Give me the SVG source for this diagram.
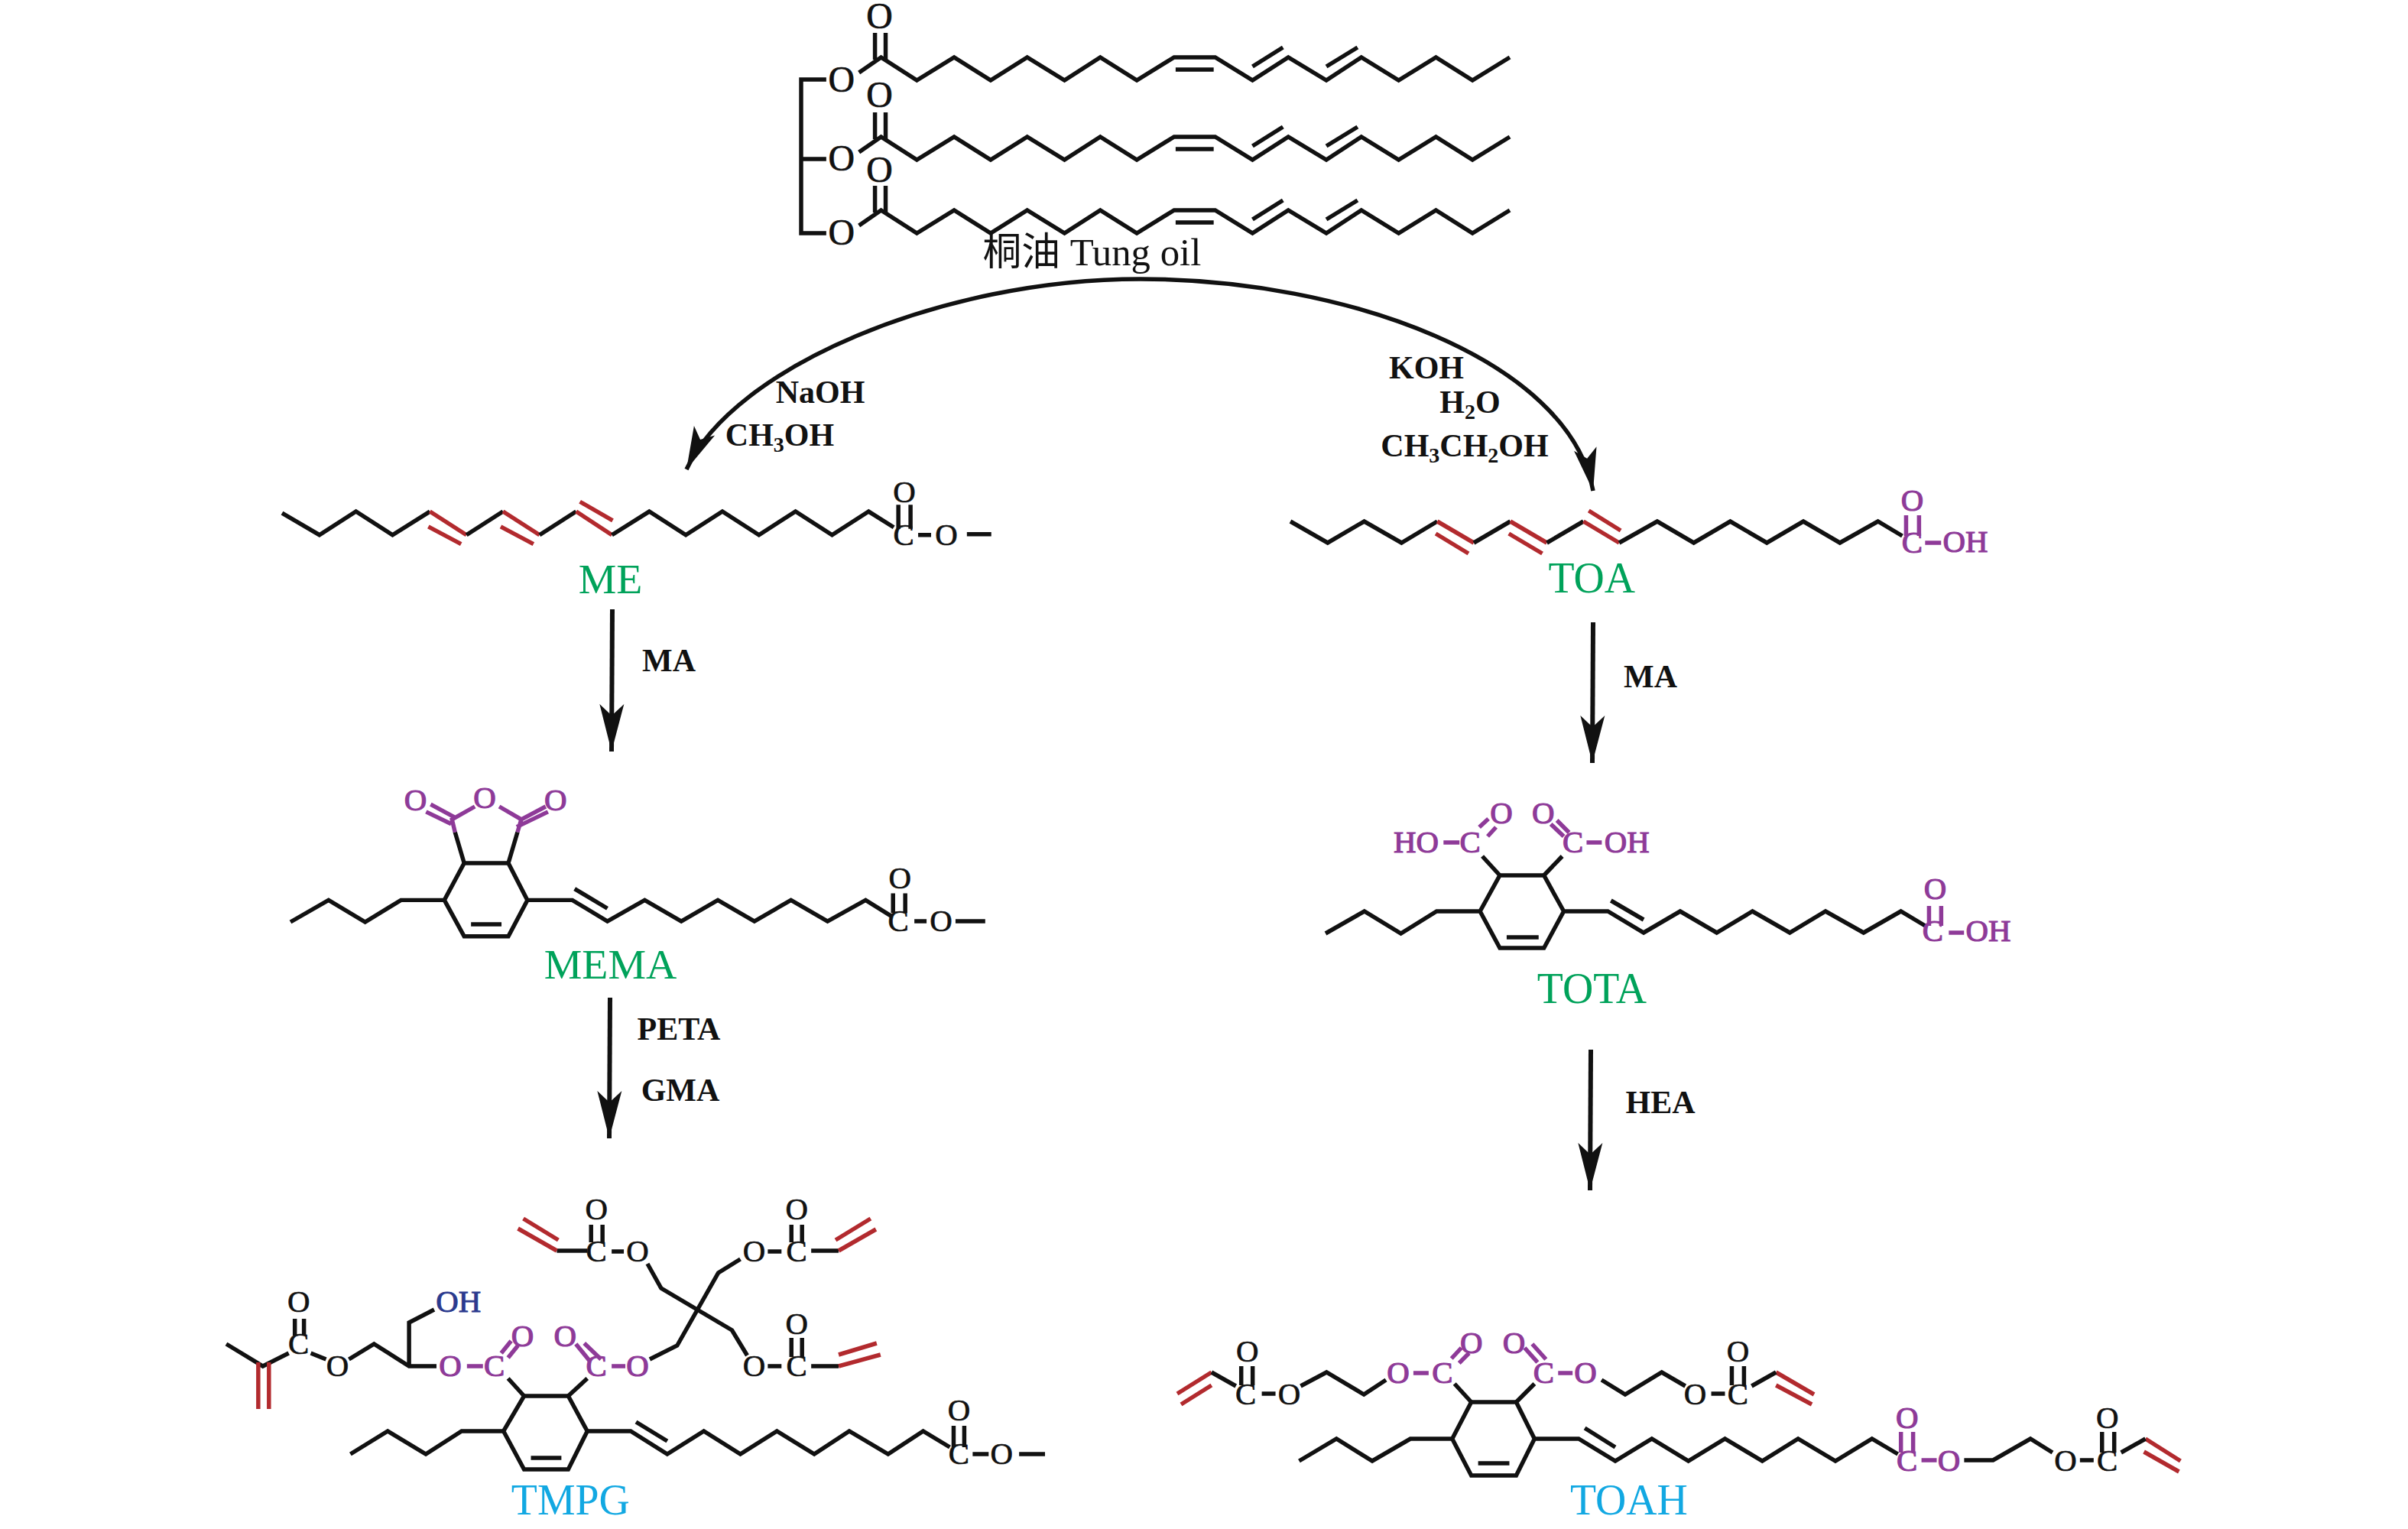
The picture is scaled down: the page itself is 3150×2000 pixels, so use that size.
<svg xmlns="http://www.w3.org/2000/svg" width="3150" height="2000" viewBox="0 0 3150 2000">
<style>
text{font-family:"Liberation Serif","Noto Sans CJK SC",serif;text-anchor:middle;fill:#111}
.a{font-size:41px;stroke:#111;stroke-width:.7}
.big{font-size:48px;stroke:#111;stroke-width:.7}
.name{font-size:56px;fill:#00a25a}
.blue{font-size:56px;fill:#12a8e2}
.rg{font-size:42px;font-weight:bold}
.v{fill:#8e3a98;stroke:#8e3a98;stroke-width:1.2}
.n{fill:#2b3a8e;stroke:#2b3a8e;stroke-width:1}
path{fill:none;stroke-linejoin:miter}
.b{stroke:#111;stroke-width:5.5}
.r{stroke:#b22a2e;stroke-width:5.5}
.p{stroke:#8e3a98;stroke-width:5.5}
.c{stroke:#111;stroke-width:6}
.c2{stroke:#111;stroke-width:5.5}
</style>
<defs>
<marker id="ah" markerUnits="userSpaceOnUse" markerWidth="70" markerHeight="40" refX="62" refY="18" orient="auto"><path d="M0,2 L15,18 L0,34 L62,18 Z" style="fill:#111;stroke:none"/></marker>
<marker id="ahs" markerUnits="userSpaceOnUse" markerWidth="64" markerHeight="36" refX="56" refY="16" orient="auto-start-reverse"><path d="M0,1 L13,16 L0,31 L56,16 Z" style="fill:#111;stroke:none"/></marker>
<g id="chain">
<path class="b" d="M1124,95 L1153,75 L1200,105 L1249,75 L1297,105 L1345,75 L1394,105 L1441,75 L1489,105 L1538,75 L1592,75 L1641,105 L1688,75 L1738,105 L1784,75 L1833,105 L1882,75 L1930,105 L1979,75"/>
<path class="b" d="M1540,91 H1590 M1641,87 L1681,62 M1738,87 L1779,62 M1145,43 V78 M1159,43 V78"/>
</g>
</defs>

<g id="connectors">
<path class="c2" d="M898,614 C960,480 1232,365 1492,365 C1760,365 2052,470 2084,642" marker-start="url(#ahs)" marker-end="url(#ahs)"/>
<path class="c" d="M801,797 L800,983" marker-end="url(#ah)"/>
<path class="c" d="M798,1305 L797,1489" marker-end="url(#ah)"/>
<path class="c" d="M2084,814 L2083,998" marker-end="url(#ah)"/>
<path class="c" d="M2081,1373 L2080,1557" marker-end="url(#ah)"/>
<text class="rg" x="1073" y="527">NaOH</text>
<text class="rg" x="1020" y="583">CH<tspan font-size="28" dy="8">3</tspan><tspan dy="-8">OH</tspan></text>
<text class="rg" x="1866" y="495">KOH</text>
<text class="rg" x="1923" y="540">H<tspan font-size="28" dy="8">2</tspan><tspan dy="-8">O</tspan></text>
<text class="rg" x="1916" y="597">CH<tspan font-size="28" dy="8">3</tspan><tspan dy="-8">CH</tspan><tspan font-size="28" dy="8">2</tspan><tspan dy="-8">OH</tspan></text>
<text class="rg" x="875" y="878">MA</text>
<text class="rg" x="2159" y="899">MA</text>
<text class="rg" x="888" y="1360">PETA</text>
<text class="rg" x="890" y="1440">GMA</text>
<text class="rg" x="2172" y="1456">HEA</text>
</g>

<g id="tung-oil" transform="translate(1048,0) scale(.9957,1) translate(-1048,0)">
<use href="#chain"/>
<use href="#chain" y="104"/>
<use href="#chain" y="200"/>
<path class="b" d="M1081,104 H1048 V305 H1081 M1048,208 H1081"/>
<text class="big" x="1151" y="37">O</text>
<text class="big" x="1151" y="140">O</text>
<text class="big" x="1151" y="238">O</text>
<text class="big" x="1101" y="120">O</text>
<text class="big" x="1101" y="223">O</text>
<text class="big" x="1101" y="320">O</text>
<text x="1430" y="347" style="font-size:51px">桐油 Tung oil</text>
</g>

<g id="ME" transform="translate(369,600) scale(.9965,.987) translate(-369,-600)">
<path class="b" d="M369,672 L418,701 L466,670 L514,701 L563,670"/>
<path class="r" d="M563,670 L611,701"/>
<path class="b" d="M611,701 L659,670"/>
<path class="r" d="M659,670 L707,701"/>
<path class="b" d="M707,701 L755,670"/>
<path class="r" d="M755,670 L802,701"/>
<path class="b" d="M802,701 L851,670 L899,701 L947,670 L995,701 L1043,670 L1091,701 L1139,670 L1172,691"/>
<path class="r" d="M561,690 L604,713 M656,690 L699,713 M760,657 L803,682"/>
<path class="b" d="M1178,661 V693 M1194,661 V693 M1204,701 H1221 M1268,700 H1300"/>
<text class="a" x="1186" y="658">O</text>
<text class="a" x="1185" y="714">C</text>
<text class="a" x="1241" y="714">O</text>
<text class="name" x="800" y="778">ME</text>
</g>

<g id="MEMA" transform="translate(380,600) scale(.9965,.987) translate(-380,-600)">
<path class="b" d="M380,1214 L430,1185 L478,1214 L525,1185 H582 L608,1136 H666 L691,1185 L666,1233 H608 L582,1185 M691,1185 H750 L796,1213 L845,1185 L893,1213 L941,1185 L989,1213 L1037,1185 L1085,1213 L1135,1185 L1170,1207"/>
<path class="b" d="M617,1217 H657 M753,1170 L796,1196 M608,1136 L596,1095 M666,1136 L678,1095 M1171,1176 V1202 M1187,1176 V1202 M1199,1213 H1215 M1253,1213 H1292"/>
<path class="p" d="M596,1095 L592,1078 L622,1061 M678,1095 L683,1078 L654,1061 M558,1068 L591,1084 M564,1058 L597,1076 M683,1078 L715,1061 M677,1088 L718,1068"/>
<text class="a v" x="544" y="1066">O</text>
<text class="a v" x="635" y="1063">O</text>
<text class="a v" x="728" y="1066">O</text>
<text class="a" x="1180" y="1169">O</text>
<text class="a" x="1178" y="1226">C</text>
<text class="a" x="1234" y="1226">O</text>
<text class="name" x="800" y="1289">MEMA</text>
</g>

<g id="TOA" transform="translate(1688,0) scale(.9956,1) translate(-1688,0)">
<path class="b" d="M1688,682 L1737,710 L1785,682 L1834,710 L1881,682"/>
<path class="r" d="M1881,682 L1929,710"/>
<path class="b" d="M1929,710 L1977,682"/>
<path class="r" d="M1977,682 L2025,710"/>
<path class="b" d="M2025,710 L2073,682"/>
<path class="r" d="M2073,682 L2120,710"/>
<path class="b" d="M2120,710 L2170,682 L2218,710 L2266,682 L2314,710 L2362,682 L2410,710 L2460,682 L2492,701"/>
<path class="r" d="M1879,698 L1922,724 M1975,698 L2019,724 M2080,668 L2122,694"/>
<path class="p" d="M2497,674 V701 M2514,674 V701 M2522,710 H2543"/>
<text class="a v" x="2505" y="668">O</text>
<text class="a v" x="2505" y="723">C</text>
<text class="a v" x="2575" y="722">OH</text>
<text class="name" x="2084" y="775">TOA</text>
</g>

<g id="TOTA" transform="translate(1734,0) scale(.9955,1) translate(-1734,0)">
<path class="b" d="M1734,1221 L1785,1192 L1833,1221 L1880,1192 H1937 L1963,1145 H2021 L2047,1192 L2021,1240 H1963 L1937,1192 M2047,1192 H2105 L2152,1220 L2200,1192 L2248,1220 L2295,1192 L2344,1220 L2391,1192 L2441,1220 L2490,1192 L2522,1211"/>
<path class="b" d="M1972,1226 H2014 M2109,1178 L2152,1203 M1963,1145 L1940,1120 M2021,1145 L2045,1120"/>
<path class="p" d="M1889,1102 H1910 M1936,1082 L1948,1071 M1947,1094 L1958,1082 M2030,1078 L2047,1094 M2038,1073 L2054,1089 M2077,1102 H2097 M2527,1185 V1211 M2543,1185 V1211 M2553,1220 H2573"/>
<text class="a v" x="1853" y="1115">HO</text>
<text class="a v" x="1924" y="1115">C</text>
<text class="a v" x="1965" y="1077">O</text>
<text class="a v" x="2020" y="1077">O</text>
<text class="a v" x="2059" y="1115">C</text>
<text class="a v" x="2130" y="1115">OH</text>
<text class="a v" x="2535" y="1176">O</text>
<text class="a v" x="2532" y="1231">C</text>
<text class="a v" x="2605" y="1231">OH</text>
<text class="name" x="2084" y="1312">TOTA</text>
</g>

<g id="TMPG" transform="translate(296,0) scale(.9963,1) translate(-298,0)">
<path class="b" d="M298,1758 L346,1787 L380,1770 M409,1770 L429,1778 M459,1778 L492,1758 L538,1787 H574 M538,1787 V1730 L571,1713"/>
<path class="b" d="M388,1725 V1747 M400,1725 V1747"/>
<path class="r" d="M340,1782 V1843 M354,1782 V1843"/>
<path class="p" d="M614,1787 H635 M659,1770 L672,1754 M668,1776 L681,1760 M757,1758 L775,1780 M768,1757 L790,1778 M804,1787 H822"/>
<path class="b" d="M668,1803 L689,1826 M772,1803 L747,1826"/>
<path class="b" d="M461,1902 L510,1872 L560,1902 L607,1872 H662 L689,1826 H747 L772,1872 L747,1922 H689 L662,1872 M772,1872 H829 L877,1902 L925,1872 L973,1902 L1021,1872 L1070,1902 L1116,1872 L1167,1902 L1213,1872 L1248,1893"/>
<path class="b" d="M698,1907 H738 M836,1860 L877,1885 M1253,1865 V1893 M1267,1865 V1893 M1278,1902 H1299 M1339,1902 H1373"/>
<path class="b" d="M851,1653 L869,1685 L962,1740 L982,1773 M973,1647 L944,1665 L890,1760 L854,1778"/>
<path class="b" d="M804,1637 H820 M777,1602 V1625 M792,1602 V1625 M732,1636 H772 M1009,1637 H1027 M1040,1602 V1625 M1054,1602 V1625 M1066,1636 H1102 M1009,1787 H1027 M1040,1750 V1775 M1054,1750 V1775 M1066,1787 H1102"/>
<path class="r" d="M732,1636 L681,1607 M734,1622 L688,1594 M1102,1636 L1151,1608 M1098,1622 L1144,1594 M1102,1787 L1157,1772 M1102,1772 L1152,1757"/>
<text class="a" x="393" y="1771">C</text>
<text class="a" x="393" y="1716">O</text>
<text class="a" x="444" y="1800">O</text>
<text class="a n" x="603" y="1716">OH</text>
<text class="a v" x="592" y="1800">O</text>
<text class="a v" x="650" y="1800">C</text>
<text class="a v" x="687" y="1761">O</text>
<text class="a v" x="743" y="1761">O</text>
<text class="a v" x="784" y="1800">C</text>
<text class="a v" x="838" y="1800">O</text>
<text class="a" x="784" y="1595">O</text>
<text class="a" x="784" y="1650">C</text>
<text class="a" x="838" y="1650">O</text>
<text class="a" x="1047" y="1595">O</text>
<text class="a" x="1047" y="1650">C</text>
<text class="a" x="991" y="1650">O</text>
<text class="a" x="1047" y="1745">O</text>
<text class="a" x="1047" y="1800">C</text>
<text class="a" x="991" y="1800">O</text>
<text class="a" x="1260" y="1858">O</text>
<text class="a" x="1260" y="1915">C</text>
<text class="a" x="1316" y="1915">O</text>
<text class="blue" x="750" y="1981">TMPG</text>
</g>

<g id="TOAH" transform="translate(1540,0) scale(.9965,1) translate(-1542,0)">
<path class="r" d="M1587,1795 L1542,1823 M1587,1812 L1547,1837 M2328,1795 L2378,1824 M2328,1812 L2375,1837 M2813,1882 L2859,1911 M2811,1899 L2857,1925"/>
<path class="b" d="M1587,1795 L1619,1813 M1626,1787 V1812 M1641,1787 V1812 M1653,1823 H1671 M1704,1813 L1738,1795 L1787,1824 L1816,1805 M1906,1810 L1928,1834 M2011,1810 L1987,1834 M2099,1805 L2130,1824 L2178,1795 L2209,1813 M2243,1823 H2261 M2270,1787 V1812 M2286,1787 V1812 M2296,1813 L2328,1795"/>
<path class="p" d="M1852,1796 H1872 M1902,1777 L1915,1763 M1912,1783 L1925,1770 M1998,1763 L2015,1782 M2008,1758 L2026,1778 M2042,1796 H2061 M2492,1873 V1900 M2508,1873 V1900 M2519,1910 H2539"/>
<path class="b" d="M1702,1911 L1751,1882 L1798,1911 L1848,1882 H1903 L1928,1834 H1987 L2011,1882 L1987,1930 H1928 L1903,1882 M2011,1882 H2069 L2117,1911 L2165,1882 L2213,1911 L2261,1882 L2310,1911 L2357,1882 L2406,1911 L2454,1882 L2488,1902"/>
<path class="b" d="M1937,1914 H1978 M2077,1868 L2117,1893 M2575,1910 H2613 L2662,1882 L2691,1900 M2727,1910 H2745 M2756,1873 V1900 M2772,1873 V1900 M2781,1900 L2813,1882"/>
<text class="a" x="1632" y="1837">C</text>
<text class="a" x="1634" y="1781">O</text>
<text class="a" x="1689" y="1837">O</text>
<text class="a v" x="1832" y="1809">O</text>
<text class="a v" x="1890" y="1809">C</text>
<text class="a v" x="1928" y="1770">O</text>
<text class="a v" x="1984" y="1770">O</text>
<text class="a v" x="2023" y="1809">C</text>
<text class="a v" x="2078" y="1809">O</text>
<text class="a" x="2222" y="1837">O</text>
<text class="a" x="2278" y="1837">C</text>
<text class="a" x="2278" y="1781">O</text>
<text class="a v" x="2500" y="1868">O</text>
<text class="a v" x="2500" y="1924">C</text>
<text class="a v" x="2555" y="1924">O</text>
<text class="a" x="2708" y="1924">O</text>
<text class="a" x="2763" y="1924">C</text>
<text class="a" x="2763" y="1868">O</text>
<text class="blue" x="2135" y="1981">TOAH</text>
</g>
</svg>
